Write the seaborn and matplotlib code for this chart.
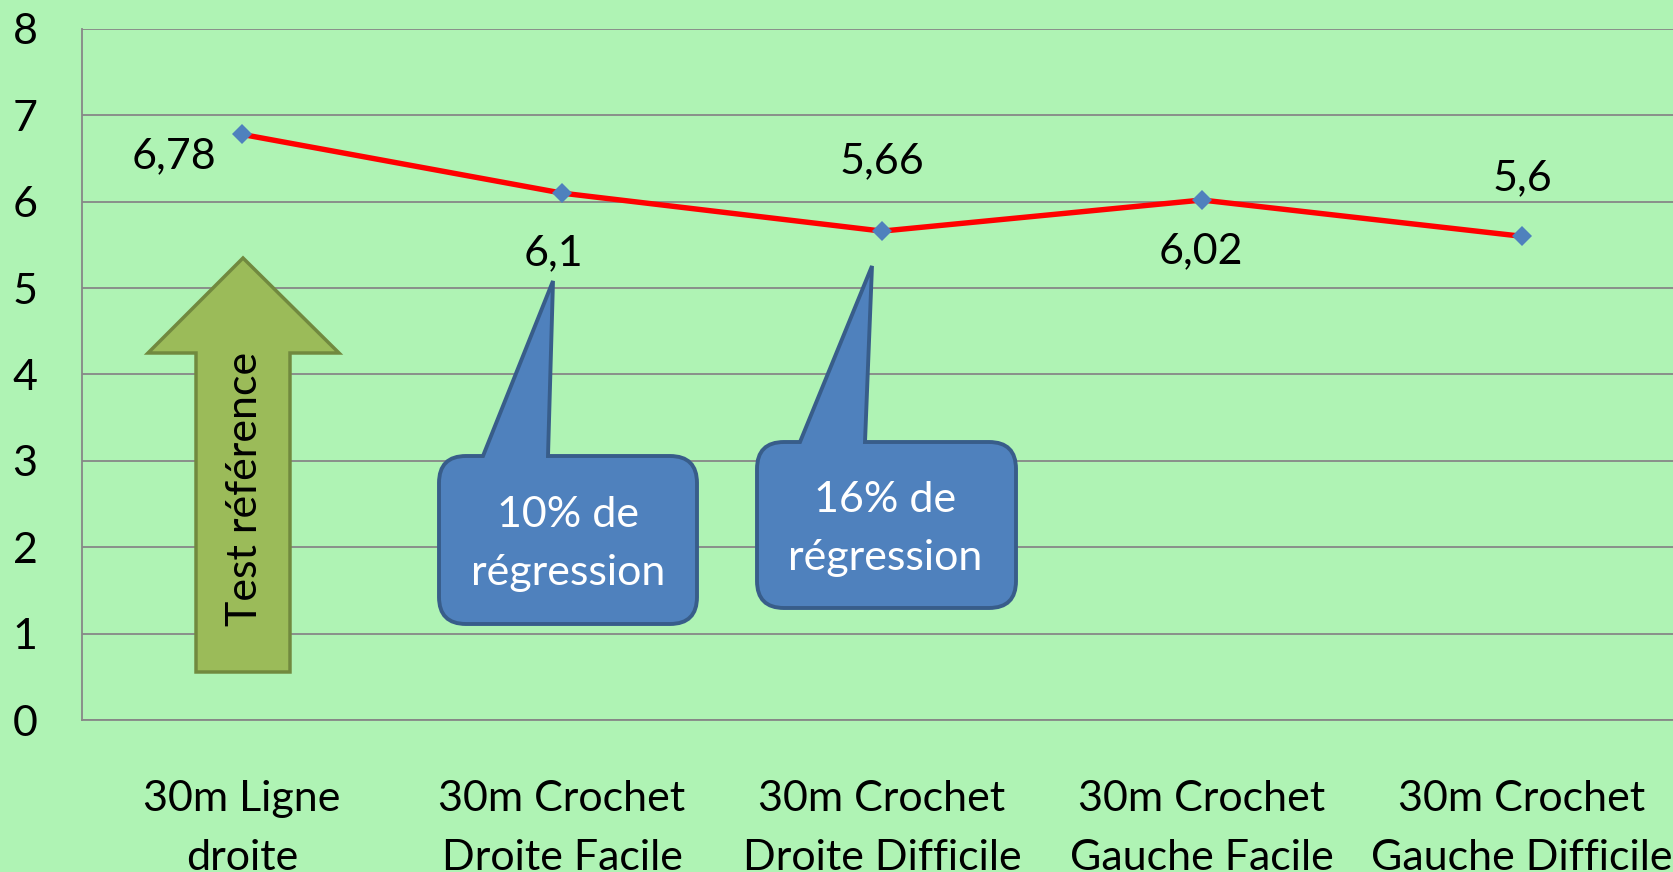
import numpy as np
import pandas as pd
import matplotlib
matplotlib.use("Agg")
import matplotlib.pyplot as plt
from matplotlib.path import Path
from matplotlib.patches import PathPatch, Polygon
from matplotlib.transforms import Affine2D
import seaborn as sns

# data
categories = ["30m Ligne\ndroite", "30m Crochet\nDroite Facile", "30m Crochet\nDroite Difficile",
              "30m Crochet\nGauche Facile", "30m Crochet\nGauche Difficile"]
values = [6.78, 6.1, 5.66, 6.02, 5.6]
y_ticks = [0, 1, 2, 3, 4, 5, 6, 7, 8]
callout_texts = ["10% de\nrégression", "16% de\nrégression"]
arrow_text = "Test référence"

# label offsets (points) for the data labels
label_offsets = [(-49, -16), (-6, -43), (0, 50), (-1, -37), (0, 42)]

W, H = 1673, 872
BG = "#AFF3B4"
GRID = "#878787"
FS = 31

sns.set_theme(style="white")
plt.rcParams["font.family"] = ["Lato", "DejaVu Sans"]

fig = plt.figure(figsize=(W / 100, H / 100), dpi=100, facecolor=BG)
# plot area runs past the right edge of the picture, as in the reference
ax = fig.add_axes([82 / W, (H - 720) / H, 1600 / W, 691 / H])
ax.set_facecolor(BG)

df = pd.DataFrame({"cat": categories, "val": values})
sns.lineplot(data=df, x="cat", y="val", ax=ax, color="#FF0000", linewidth=3.9,
             marker="D", markersize=10, markerfacecolor="#4F81BD",
             markeredgecolor="#4F81BD", markeredgewidth=0, zorder=5, sort=False)

ax.set_xlim(-0.5, len(categories) - 0.5)
ax.set_ylim(0, 8)
ax.set_xlabel("")
ax.set_ylabel("")

# y axis
ax.set_yticks(y_ticks)
ax.yaxis.grid(True, color=GRID, linewidth=1.3)
ax.tick_params(axis="y", length=11, width=1.3, color=GRID, pad=21, labelsize=FS, labelcolor="black")

# x axis: labels at centres, ticks between categories
ax.set_xticks(range(len(categories)))
ax.set_xticklabels(categories, linespacing=1.65)
ax.set_xticks(np.arange(-0.5, len(categories)), minor=True)
ax.tick_params(axis="x", which="major", length=0, pad=43.5, labelsize=FS, labelcolor="black")
ax.tick_params(axis="x", which="minor", length=11, width=1.3, color=GRID)
ax.xaxis.grid(False)

for side in ["top", "right"]:
    ax.spines[side].set_visible(False)
for side in ["left", "bottom"]:
    ax.spines[side].set_color(GRID)
    ax.spines[side].set_linewidth(1.3)

# data labels
for i, (v, off) in enumerate(zip(values, label_offsets)):
    ax.annotate(str(v).replace(".", ","), (i, v), xytext=off, textcoords="offset points",
                ha="center", va="center", fontsize=FS, color="black", zorder=6)

# shapes are placed in picture pixels (origin top-left)
px = Affine2D().scale(1, -1).translate(0, H)

# green block arrow
arrow_pts = [(243, 258), (339, 353), (290, 353), (290, 672), (196, 672), (196, 353), (148, 353)]
fig.add_artist(Polygon(arrow_pts, closed=True, transform=px, facecolor="#9BBB59",
                       edgecolor="#71893F", linewidth=2.5, joinstyle="miter", zorder=3))
fig.text(245, H - 489, arrow_text, transform=Affine2D(), rotation=90, ha="center",
         va="center", fontsize=FS, color="black", zorder=4)


def callout(left, top, right, bottom, base_l, base_r, tip, r=27):
    verts = [(base_l, top), tip, (base_r, top), (right - r, top),
             (right, top), (right, top + r), (right, bottom - r),
             (right, bottom), (right - r, bottom), (left + r, bottom),
             (left, bottom), (left, bottom - r), (left, top + r),
             (left, top), (left + r, top), (base_l, top), (base_l, top)]
    codes = [Path.MOVETO, Path.LINETO, Path.LINETO, Path.LINETO,
             Path.CURVE3, Path.CURVE3, Path.LINETO,
             Path.CURVE3, Path.CURVE3, Path.LINETO,
             Path.CURVE3, Path.CURVE3, Path.LINETO,
             Path.CURVE3, Path.CURVE3, Path.LINETO, Path.CLOSEPOLY]
    return PathPatch(Path(verts, codes), transform=px, facecolor="#4F81BD",
                     edgecolor="#385D8A", linewidth=2.8, zorder=3)


fig.add_artist(callout(439, 456, 697, 624, 483, 548, (553, 281)))
fig.add_artist(callout(757, 442, 1016, 608, 800, 865, (872, 266)))
fig.text(568, H - 544, callout_texts[0], transform=Affine2D(), ha="center", va="center",
         fontsize=FS, color="white", linespacing=1.62, zorder=4)
fig.text(885, H - 529, callout_texts[1], transform=Affine2D(), ha="center", va="center",
         fontsize=FS, color="white", linespacing=1.62, zorder=4)

fig.savefig("out.png", dpi=100, facecolor=BG)
